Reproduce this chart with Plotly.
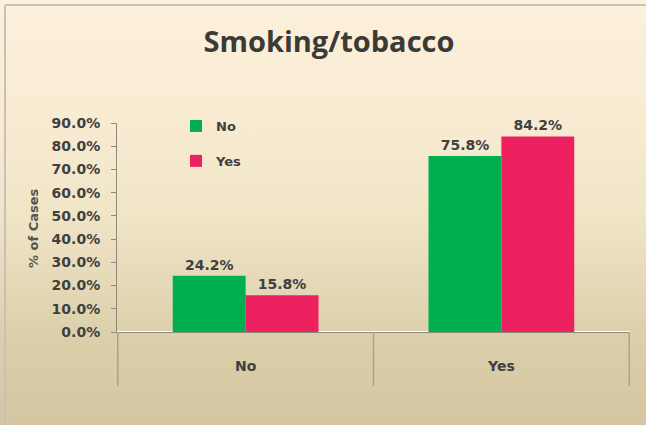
import plotly.graph_objects as go

categories = ["No", "Yes"]
series_names = ["No", "Yes"]
values_no = [24.2, 75.8]
values_yes = [15.8, 84.2]
y_tickvals = [0, 10, 20, 30, 40, 50, 60, 70, 80, 90]
y_ticktext = ["0.0%", "10.0%", "20.0%", "30.0%", "40.0%", "50.0%", "60.0%", "70.0%", "80.0%", "90.0%"]

W, H = 646, 425
green = "#00b050"
pink = "#ee2160"
txt = "#404040"
FONT = "DejaVu Sans"

fig = go.Figure()

# background gradient on a full-figure helper subplot
fig.add_trace(go.Scatter(
    x=[-0.1, 1.1, 1.1, -0.1, -0.1], y=[-0.1, -0.1, 1.1, 1.1, -0.1], mode="none", fill="toself",
    hoverinfo="skip", showlegend=False,
    fillgradient=dict(type="vertical", start=0, stop=1,
                      colorscale=[[0, "#d3c6a0"], [0.22, "#dcd0ac"], [0.5, "#f1e5c8"],
                                  [0.75, "#f9ecd3"], [1, "#fdf0dc"]]),
    xaxis="x", yaxis="y"))

for name, vals, col in [(series_names[0], values_no, green), (series_names[1], values_yes, pink)]:
    fig.add_trace(go.Bar(
        x=categories, y=vals, name=name, marker=dict(color=col, line=dict(width=0)),
        texttemplate="%{y:.1f}%", textposition="outside",
        textfont=dict(family=FONT, size=14, color=txt, weight="bold"),
        cliponaxis=False, legendgroup=name,
        xaxis="x2", yaxis="y2"))

x0p, x1p = 117 / W, 630 / W
y0p, y1p = 1 - 332 / H, 1 - 123 / H

fig.update_layout(
    width=W, height=H,
    margin=dict(l=0, r=0, t=0, b=0),
    paper_bgcolor="#fdf0dc", plot_bgcolor="rgba(0,0,0,0)",
    barmode="group", bargap=0.43, bargroupgap=0,
    title=dict(text="Smoking/tobacco", x=329 / W, xanchor="center", y=1 - 42 / H, yanchor="middle",
               font=dict(family="Open Sans", size=29, color="#3a3a36", weight="bold")),
    xaxis=dict(domain=[0, 1], range=[0, 1], visible=False, fixedrange=True),
    yaxis=dict(domain=[0, 1], range=[0, 1], visible=False, fixedrange=True),
    xaxis2=dict(domain=[x0p, x1p], anchor="y2", showgrid=False, showline=True,
                linecolor="#8c8a78", linewidth=1, ticks="outside", ticklen=21,
                tickcolor="rgba(0,0,0,0)", automargin=False,
                tickfont=dict(family=FONT, size=14, color=txt, weight="bold")),
    yaxis2=dict(domain=[y0p, y1p], anchor="x2", range=[0, 90], showgrid=False,
                showline=True, linecolor="#8c8a78", linewidth=1, ticks="outside",
                ticklen=5, tickcolor="#8c8a78", tickvals=y_tickvals, ticktext=y_ticktext,
                automargin=False, ticklabelstandoff=8,
                tickfont=dict(family=FONT, size=14, color=txt, weight="bold")),
    legend=dict(x=176 / W, y=1 - 111 / H, xanchor="left", yanchor="top",
                bgcolor="rgba(0,0,0,0)", tracegroupgap=15, traceorder="grouped",
                font=dict(family=FONT, size=13, color=txt, weight="bold")),
    showlegend=True,
)

# category boundary lines below the axis
for xb in [-0.5, 0.5, 1.5]:
    fig.add_shape(type="line", xref="x2", yref="paper", x0=xb, x1=xb,
                  y0=y0p, y1=1 - 386 / H, line=dict(color="#a8a494", width=1.5))

# outer frame (top and left edges visible)
fig.add_shape(type="line", xref="paper", yref="paper", x0=5 / W, x1=1, y0=1 - 5 / H, y1=1 - 5 / H,
              line=dict(color="#c4c2ba", width=2))
fig.add_shape(type="line", xref="paper", yref="paper", x0=5 / W, x1=5 / W, y0=0, y1=1 - 5 / H,
              line=dict(color="#c4c2ba", width=2))

fig.add_annotation(text="% of Cases", xref="paper", yref="paper", x=33 / W, y=1 - 228 / H,
                   textangle=-90, showarrow=False, xanchor="center", yanchor="middle",
                   font=dict(family=FONT, size=13, color="#55554c", weight="bold"))

fig.write_html("out.html")
